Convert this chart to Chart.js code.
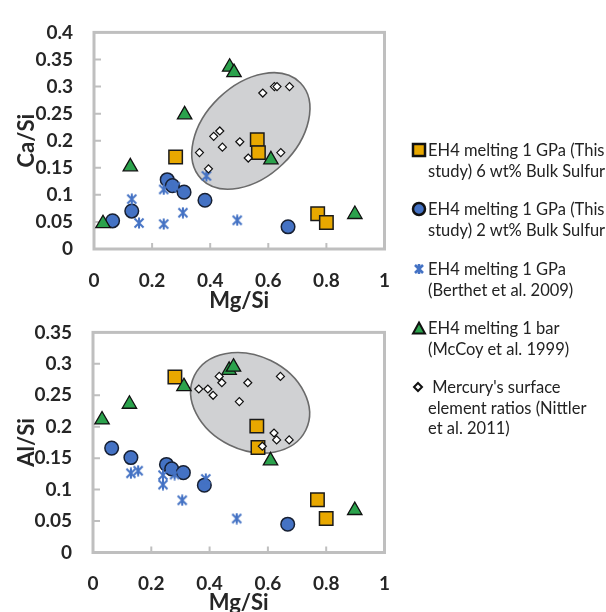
<!DOCTYPE html>
<html>
<head>
<meta charset="utf-8">
<script src="https://cdn.jsdelivr.net/npm/chart.js@4/dist/chart.umd.min.js"></script>
<style>
  html, body { margin: 0; padding: 0; background: #fff; width: 606px; height: 612px; overflow: hidden; }
  canvas { position: absolute; left: 0; }
  #topChart { top: 0; }
  #bottomChart { top: 300px; }
  #legend { position: absolute; left: 405px; top: 0; width: 201px; height: 612px; overflow: hidden;
            font-family: Lato, 'Open Sans', sans-serif; font-size: 16.5px; color: #222; white-space: nowrap; }
  .item { position: absolute; left: 0; line-height: 20.5px; }
  .item svg { position: absolute; }
  .item .txt { margin-left: 23px; }
</style>
</head>
<body>
<canvas id="topChart" width="410" height="314"></canvas>
<canvas id="bottomChart" width="410" height="316"></canvas>
<div id="legend"></div>
<script>
// Mg/Si is shared by both panels; Ca/Si is the top panel, Al/Si the bottom one
const squareMg = [0.281, 0.562, 0.566, 0.770, 0.800];
const squareCa = [0.170, 0.202, 0.178, 0.065, 0.049];
const squareAl = [0.279, 0.201, 0.167, 0.084, 0.054];

const circleMg = [0.064, 0.130, 0.252, 0.270, 0.310, 0.382, 0.668];
const circleCa = [0.052, 0.070, 0.128, 0.117, 0.105, 0.090, 0.041];
const circleAl = [0.166, 0.151, 0.140, 0.133, 0.127, 0.107, 0.045];

const berthetMg = [0.130, 0.155, 0.240, 0.240, 0.280, 0.306, 0.387, 0.493];
const berthetCa = [0.092, 0.048, 0.110, 0.046, 0.115, 0.067, 0.135, 0.053];
const berthetAl = [0.126, 0.130, 0.123, 0.108, 0.124, 0.083, 0.117, 0.054];

const mccoyMg = [0.031, 0.125, 0.312, 0.467, 0.482, 0.609, 0.898];
const mccoyCa = [0.047, 0.152, 0.248, 0.336, 0.326, 0.165, 0.064];
const mccoyAl = [0.211, 0.236, 0.264, 0.290, 0.295, 0.146, 0.067];

const mercuryMg = [0.363, 0.394, 0.412, 0.433, 0.442, 0.502, 0.531, 0.581, 0.621, 0.630, 0.643, 0.673];
const mercuryCa = [0.178, 0.148, 0.208, 0.218, 0.188, 0.198, 0.168, 0.288, 0.300, 0.300, 0.178, 0.300];
const mercuryAl = [0.260, 0.260, 0.250, 0.280, 0.270, 0.240, 0.270, 0.169, 0.190, 0.179, 0.280, 0.179];

const xTickLabels = ['0', '0.2', '0.4', '0.6', '0.8', '1'];
const caTickLabels = ['0', '0.05', '0.1', '0.15', '0.2', '0.25', '0.3', '0.35', '0.4'];
const alTickLabels = ['0', '0.05', '0.1', '0.15', '0.2', '0.25', '0.3', '0.35'];

const legendLabels = [
  ['EH4 melting 1 GPa (This', 'study) 6 wt% Bulk Sulfur'],
  ['EH4 melting 1 GPa (This', 'study) 2 wt% Bulk Sulfur'],
  ['EH4 melting 1 GPa', '(Berthet et al. 2009)'],
  ['EH4 melting 1 bar', '(McCoy et al. 1999)'],
  [' Mercury\'s surface', 'element ratios (Nittler', 'et al. 2011)'],
];

// Mercury field: centre in data units, size in pixels
const topEllipse = { x: 0.540, y: 0.218, rx: 69, ry: 46, angle: -44 };
const bottomEllipse = { x: 0.539, y: 0.238, rx: 62, ry: 47, angle: 26 };

const colors = {
  gold: '#E8A800',
  blue: '#4472C4',
  green: '#2BA24C',
  frame: '#BFBFBF',
  text: '#262626',
};

function makeAsterisk(size, color) {
  const c = document.createElement('canvas');
  c.width = size;
  c.height = size;
  const g = c.getContext('2d');
  g.strokeStyle = color;
  g.lineWidth = 2;
  g.beginPath();
  g.moveTo(size / 2, 0.5);
  g.lineTo(size / 2, size - 0.5);
  g.moveTo(1.5, 1.5);
  g.lineTo(size - 1.5, size - 1.5);
  g.moveTo(size - 1.5, 1.5);
  g.lineTo(1.5, size - 1.5);
  g.stroke();
  return c;
}

const asterisk = makeAsterisk(12, colors.blue);

function points(xs, ys) {
  return xs.map((x, i) => ({ x, y: ys[i] }));
}

function buildDatasets(ySet) {
  return [
    { data: points(squareMg, ySet.square), pointStyle: 'rect', pointRadius: 9.5,
      backgroundColor: colors.gold, borderColor: '#1a1a1a', borderWidth: 1.5, order: 5 },
    { data: points(circleMg, ySet.circle), pointStyle: 'circle', pointRadius: 6.8,
      backgroundColor: colors.blue, borderColor: '#172033', borderWidth: 1.5, order: 4 },
    { data: points(berthetMg, ySet.berthet), pointStyle: asterisk, pointRadius: 5,
      backgroundColor: colors.blue, borderColor: colors.blue, order: 3 },
    { data: points(mccoyMg, ySet.mccoy), pointStyle: 'triangle', pointRadius: 8.3,
      backgroundColor: colors.green, borderColor: '#111', borderWidth: 1.3, order: 2 },
    { data: points(mercuryMg, ySet.mercury), pointStyle: 'rectRot', pointRadius: 4,
      backgroundColor: '#fff', borderColor: '#111', borderWidth: 1.2, order: 1 },
  ];
}

function framePlugin(ellipse) {
  return {
    id: 'frameAndField',
    beforeDatasetsDraw(chart) {
      const { ctx, chartArea, scales } = chart;
      const { left, right, top, bottom } = chartArea;
      ctx.save();

      // plot area frame with inner tick marks
      ctx.strokeStyle = colors.frame;
      ctx.lineWidth = 3;
      ctx.strokeRect(left, top, right - left, bottom - top);
      ctx.lineWidth = 2;
      ctx.beginPath();
      scales.x.ticks.forEach((t) => {
        const px = scales.x.getPixelForValue(t.value);
        if (px > left + 2 && px < right - 2) {
          ctx.moveTo(px, bottom);
          ctx.lineTo(px, bottom - 6);
        }
      });
      scales.y.ticks.forEach((t) => {
        const py = scales.y.getPixelForValue(t.value);
        if (py > top + 2 && py < bottom - 2) {
          ctx.moveTo(left, py);
          ctx.lineTo(left + 7, py);
        }
      });
      ctx.stroke();

      // grey Mercury field
      const cx = scales.x.getPixelForValue(ellipse.x);
      const cy = scales.y.getPixelForValue(ellipse.y);
      ctx.beginPath();
      ctx.ellipse(cx, cy, ellipse.rx, ellipse.ry, ellipse.angle * Math.PI / 180, 0, Math.PI * 2);
      ctx.fillStyle = '#D0D1D3';
      ctx.fill();
      ctx.lineWidth = 1.6;
      ctx.strokeStyle = '#6A6A6A';
      ctx.stroke();
      ctx.restore();
    },
  };
}

function buildChart(canvasId, opts) {
  const tickFont = { family: 'Lato', size: 19, weight: 'bold' };
  const titleFont = { family: 'Lato', size: 22, weight: 'bold' };

  return new Chart(document.getElementById(canvasId), {
    type: 'scatter',
    data: { datasets: buildDatasets(opts.ySet) },
    options: {
      responsive: false,
      animation: false,
      devicePixelRatio: 1,
      layout: { padding: { left: 0, right: opts.padRight, top: opts.padTop, bottom: 0 } },
      plugins: { legend: { display: false }, tooltip: { enabled: false } },
      scales: {
        x: {
          type: 'linear',
          min: 0,
          max: 1,
          grid: { display: false, drawTicks: false },
          border: { display: false },
          ticks: {
            stepSize: 0.2,
            padding: 20,
            color: colors.text,
            font: tickFont,
            callback: (v, i) => xTickLabels[i],
          },
          title: { display: true, text: 'Mg/Si', color: colors.text, font: titleFont, padding: 0 },
          afterFit: (scale) => { scale.height = opts.xHeight; },
        },
        y: {
          type: 'linear',
          min: 0,
          max: opts.yMax,
          grid: { display: false, drawTicks: false },
          border: { display: false },
          ticks: {
            stepSize: 0.05,
            padding: 21,
            color: colors.text,
            font: tickFont,
            callback: (v, i) => opts.yLabels[i],
          },
          title: { display: true, text: opts.yTitle, color: colors.text, font: titleFont, padding: { top: 14, bottom: 0 } },
          afterFit: (scale) => { scale.width = opts.yWidth; },
        },
      },
    },
    plugins: [framePlugin(opts.ellipse)],
  });
}

function legendMarker(i) {
  if (i === 0) {
    return '<svg width="16" height="16" style="left:6px;top:2px"><rect x="2" y="2" width="12" height="12" fill="' + colors.gold + '" stroke="#111" stroke-width="2.5"/></svg>';
  }
  if (i === 1) {
    return '<svg width="16" height="16" style="left:6px;top:2px"><circle cx="8" cy="8" r="6" fill="' + colors.blue + '" stroke="#111" stroke-width="2.5"/></svg>';
  }
  if (i === 2) {
    return '<svg width="16" height="16" style="left:6px;top:2px"><path d="M8 3 V13 M4 4 L12 12 M12 4 L4 12" stroke="' + colors.blue + '" stroke-width="2.6" fill="none"/></svg>';
  }
  if (i === 3) {
    return '<svg width="16" height="16" style="left:6px;top:2px"><polygon points="8,2.5 14,13.5 2,13.5" fill="' + colors.green + '" stroke="#111" stroke-width="2"/></svg>';
  }
  return '<svg width="16" height="16" style="left:5px;top:2px"><polygon points="8,4 12,8 8,12 4,8" fill="#fff" stroke="#111" stroke-width="2"/></svg>';
}

function renderLegend() {
  const firstLineCenters = [150, 209, 269, 328, 387];
  document.getElementById('legend').innerHTML = legendLabels
    .map((lines, i) => '<div class="item" style="top:' + (firstLineCenters[i] - 10) + 'px">' +
      legendMarker(i) + '<div class="txt">' + lines.join('<br>').replace(/^ /, '&nbsp;') + '</div></div>')
    .join('');
}

buildChart('topChart', {
  ySet: { square: squareCa, circle: circleCa, berthet: berthetCa, mccoy: mccoyCa, mercury: mercuryCa },
  yMax: 0.4,
  yLabels: caTickLabels,
  yTitle: 'Ca/Si',
  ellipse: topEllipse,
  padTop: 14,
  padRight: 16,
  xHeight: 65,
  yWidth: 94,
});

buildChart('bottomChart', {
  ySet: { square: squareAl, circle: circleAl, berthet: berthetAl, mccoy: mccoyAl, mercury: mercuryAl },
  yMax: 0.35,
  yLabels: alTickLabels,
  yTitle: 'Al/Si',
  ellipse: bottomEllipse,
  padTop: 18,
  padRight: 11,
  xHeight: 63.5,
  yWidth: 93,
});

renderLegend();
</script>
</body>
</html>
